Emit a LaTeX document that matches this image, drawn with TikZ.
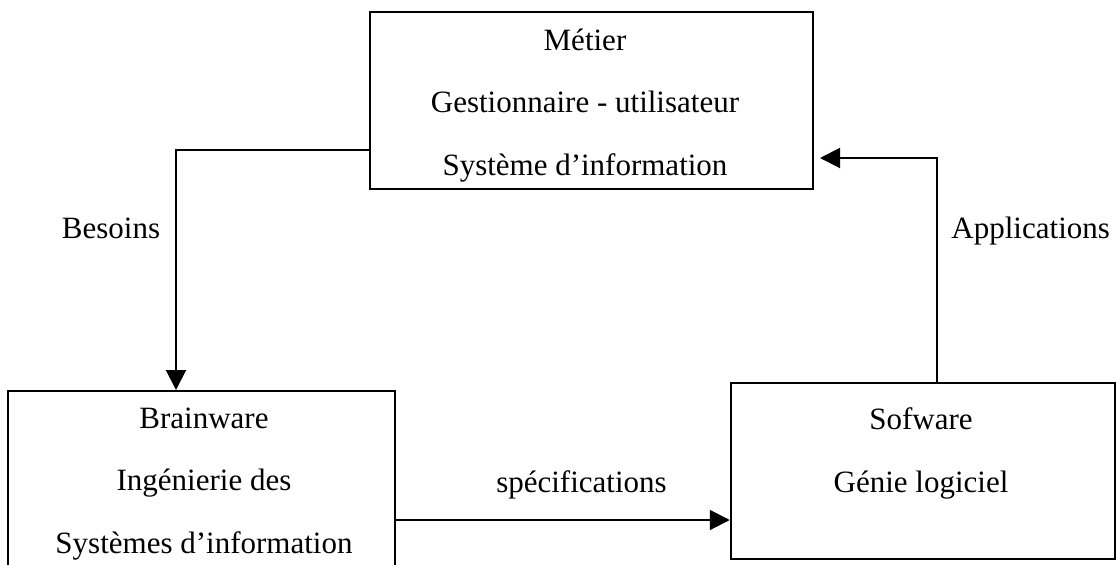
\documentclass[tikz,border=0pt]{standalone}
\usepackage{fontspec}
\setmainfont{Liberation Serif}
\usetikzlibrary{positioning,arrows.meta}

\begin{document}
\begin{tikzpicture}[x=1pt,y=-1pt,line width=2pt,
  bloc/.style={shape=rectangle,draw,inner sep=0pt},
  texte/.style={align=center,inner sep=0pt,anchor=base,font=\fontsize{31}{62.5}\selectfont},
  fleche/.style={-{Triangle[length=20pt,width=20pt]}}]
\useasboundingbox (0,0) rectangle (1117,565);
\clip (0,0) rectangle (1117,565);
% blocs
\path (591.5,100.5) node (metier) [bloc,minimum width=443,minimum height=177] {};
\path (201.7,479.5) node (brain) [bloc,minimum width=386.7,minimum height=177] {};
\path (922.9,471) node (sof) [bloc,minimum width=384.3,minimum height=176] {};
% le point d'ancrage est la ligne de base de la derniere ligne
\path (585,175) node (metiertxt) [texte] {Métier\\Gestionnaire - utilisateur\\Système d’information};
\path (204,553) node (braintxt) [texte] {Brainware\\Ingénierie des\\Systèmes d’information};
\path (921,492) node (softxt) [texte] {Sofware\\Génie logiciel};
% etiquettes des fleches
\path (111,238) node (besoins) [texte] {Besoins};
\path (1030.7,238) node (applis) [texte] {Applications};
\path (581.5,492) node (specs) [texte] {spécifications};
\coordinate (coude1) at (176,150);
\coordinate (coude2) at (936.7,158);
\coordinate (niveau) at (0,520);

\draw [fleche] (metier.west |- coude1) -| (brain.north -| coude1);
\draw [fleche,shorten >=6pt] (sof.north -| coude2) |- (metier.east |- coude2);
\draw [fleche] (brain.east |- niveau) -- (sof.west |- niveau);
\end{tikzpicture}
\end{document}
